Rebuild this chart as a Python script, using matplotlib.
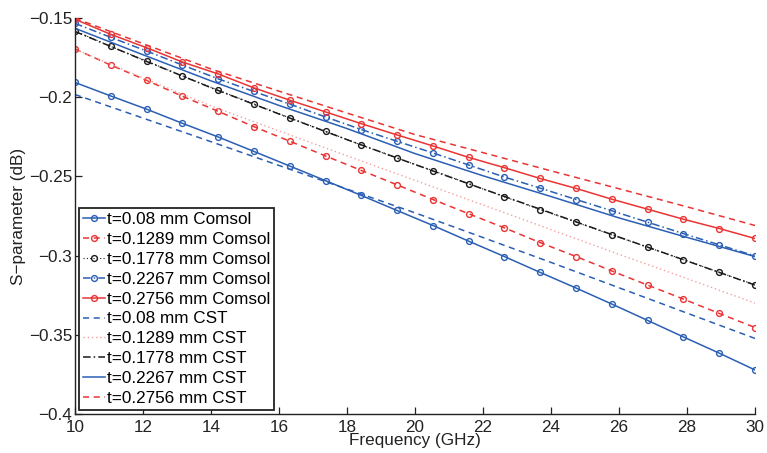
import matplotlib
matplotlib.use("Agg")
import matplotlib.pyplot as plt

plt.rcParams['font.family'] = ['Liberation Sans', 'DejaVu Sans']

# Comsol frequencies (GHz)
freq_comsol = [10.00, 11.05, 12.11, 13.16, 14.21, 15.26, 16.32, 17.37, 18.42, 19.47,
               20.53, 21.58, 22.63, 23.68, 24.74, 25.79, 26.84, 27.89, 28.95, 30.00]
comsol_008 = [-0.1907, -0.1992, -0.2076, -0.2165, -0.2251, -0.2342, -0.2435, -0.2527, -0.2620, -0.2715,
              -0.2810, -0.2909, -0.3006, -0.3106, -0.3205, -0.3306, -0.3409, -0.3513, -0.3616, -0.3722]
comsol_01289 = [-0.1696, -0.1797, -0.1894, -0.1994, -0.2089, -0.2186, -0.2278, -0.2371, -0.2462, -0.2553,
                -0.2646, -0.2736, -0.2825, -0.2918, -0.3006, -0.3097, -0.3186, -0.3274, -0.3365, -0.3454]
comsol_01778 = [-0.1582, -0.1679, -0.1772, -0.1865, -0.1956, -0.2042, -0.2131, -0.2215, -0.2302, -0.2384,
                -0.2464, -0.2546, -0.2629, -0.2709, -0.2789, -0.2869, -0.2947, -0.3025, -0.3106, -0.3184]
comsol_02267 = [-0.1534, -0.1622, -0.1709, -0.1797, -0.1884, -0.1964, -0.2044, -0.2125, -0.2204, -0.2278,
                -0.2352, -0.2428, -0.2504, -0.2574, -0.2646, -0.2717, -0.2789, -0.2861, -0.2932, -0.3002]
comsol_02756 = [-0.1508, -0.1603, -0.1688, -0.1778, -0.1853, -0.1941, -0.2019, -0.2093, -0.2167, -0.2238,
                -0.2308, -0.2380, -0.2445, -0.2513, -0.2576, -0.2644, -0.2707, -0.2770, -0.2829, -0.2892]

# CST frequencies (GHz)
freq_cst = [10, 12, 14, 16, 18, 20, 22, 24, 26, 28, 30]
cst_008 = [-0.1983, -0.2132, -0.2281, -0.2431, -0.2580, -0.2730, -0.2886, -0.3043, -0.3203, -0.3363, -0.3523]
cst_01289 = [-0.1696, -0.1878, -0.2055, -0.2213, -0.2370, -0.2525, -0.2680, -0.2836, -0.2992, -0.3145, -0.3300]
cst_01778 = [-0.1585, -0.1765, -0.1940, -0.2106, -0.2268, -0.2425, -0.2579, -0.2731, -0.2883, -0.3034, -0.3186]
cst_02267 = [-0.1565, -0.1732, -0.1897, -0.2052, -0.2198, -0.2356, -0.2496, -0.2627, -0.2762, -0.2885, -0.3006]
cst_02756 = [-0.1502, -0.1662, -0.1822, -0.1962, -0.2100, -0.2236, -0.2350, -0.2465, -0.2578, -0.2692, -0.2810]

labels_comsol = ['t=0.08 mm Comsol', 't=0.1289 mm Comsol', 't=0.1778 mm Comsol',
                 't=0.2267 mm Comsol', 't=0.2756 mm Comsol']
labels_cst = ['t=0.08 mm CST', 't=0.1289 mm CST', 't=0.1778 mm CST',
              't=0.2267 mm CST', 't=0.2756 mm CST']

yticks = [-0.4, -0.35, -0.3, -0.25, -0.2, -0.15]
ytick_labels = ['\u22120.4', '\u22120.35', '\u22120.3', '\u22120.25', '\u22120.2', '\u22120.15']
xticks = [10, 12, 14, 16, 18, 20, 22, 24, 26, 28, 30]

BLUE = '#2b5fb4'
RED = '#ea3434'
BLACK = '#1a1a1a'
PINK = '#f4a0a0'

fig = plt.figure(figsize=(7.67, 4.53), dpi=100)
ax = fig.add_axes([75/767, 39/453, 680/767, 396/453])

mk = dict(marker='o', markersize=4.2, markerfacecolor='none', markeredgewidth=1.0)
lw = 1.1

ax.plot(freq_comsol, comsol_008, color=BLUE, linestyle='-', lw=lw, label=labels_comsol[0], **mk)
ax.plot(freq_comsol, comsol_01289, color=RED, linestyle=(0, (4, 3)), lw=lw, label=labels_comsol[1], **mk)
ax.plot(freq_comsol, comsol_01778, color=BLACK, linestyle=(0, (1, 2)), lw=0.8, label=labels_comsol[2], **mk)
ax.plot(freq_comsol, comsol_02267, color=BLUE, linestyle=(0, (5, 2, 1, 2)), lw=lw, label=labels_comsol[3], **mk)
ax.plot(freq_comsol, comsol_02756, color=RED, linestyle='-', lw=lw, label=labels_comsol[4], **mk)

ax.plot(freq_cst, cst_008, color=BLUE, linestyle=(0, (4, 3)), lw=lw, label=labels_cst[0])
ax.plot(freq_cst, cst_01289, color=PINK, linestyle=(0, (1, 2)), lw=1.0, label=labels_cst[1])
ax.plot(freq_cst, cst_01778, color=BLACK, linestyle=(0, (5, 2, 1, 2)), lw=lw, label=labels_cst[2])
ax.plot(freq_cst, cst_02267, color=BLUE, linestyle='-', lw=lw, label=labels_cst[3])
ax.plot(freq_cst, cst_02756, color=RED, linestyle=(0, (4, 3)), lw=lw, label=labels_cst[4])

ax.set_xlim(10, 30)
ax.set_ylim(-0.4, -0.15)
ax.set_xticks(xticks)
ax.set_xticklabels([str(v) for v in xticks])
ax.set_yticks(yticks)
ax.set_yticklabels(ytick_labels)

for s in ['top', 'right']:
    ax.spines[s].set_visible(False)
for s in ['left', 'bottom']:
    ax.spines[s].set_linewidth(1.0)
    ax.spines[s].set_color('#222222')

ax.tick_params(direction='in', length=5, width=0.9, labelsize=12.3, colors='#222222')
ax.tick_params(axis='x', pad=4)
ax.tick_params(axis='y', pad=2)

ax.set_xlabel('Frequency (GHz)', fontsize=12.3, labelpad=-1, color='#222222')
ax.set_ylabel('S\u2212parameter (dB)', fontsize=12.3, labelpad=2, color='#222222')

leg = ax.legend(loc='lower left', fontsize=12.3, frameon=True, fancybox=False,
                edgecolor='#222222', framealpha=1, labelspacing=0.29, handlelength=1.3,
                handletextpad=0.15, borderpad=0.2, borderaxespad=0.25)
leg.get_frame().set_linewidth(1.3)

fig.savefig('out.png', dpi=100)
